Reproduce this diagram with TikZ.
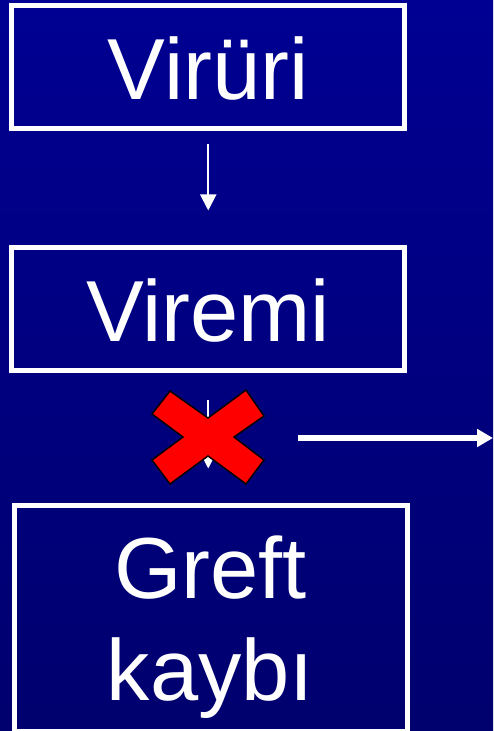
\documentclass[tikz,border=0pt]{standalone}
\usepackage{fontspec}
\setmainfont{Liberation Sans}
\usetikzlibrary{arrows.meta}

\definecolor{bgtop}{RGB}{0,0,146}
\definecolor{bgbot}{RGB}{0,0,110}
\definecolor{crossred}{RGB}{255,0,0}

\begin{document}
\begin{tikzpicture}[x=0.75pt,y=-0.75pt,
  stagebox/.style={draw=white, line width=3.75pt, inner sep=0pt,
    text=white, font=\fontsize{65}{76.5}\selectfont,
    minimum width=294.4pt, minimum height=91.9pt,
    text height=48pt, text depth=0pt},
  thinarrow/.style={draw=white, line width=1.5pt,
    -{Triangle[width=12pt,length=12pt]}},
  thickarrow/.style={draw=white, line width=3.9pt,
    -{Triangle[width=13pt,length=12pt]}},
  crossmark/.style={fill=crossred, draw=black, line width=1.1pt, line join=miter}]

  % background
  \useasboundingbox (0,0) rectangle (493,731);
  \shade[top color=bgtop, bottom color=bgbot] (0,0) rectangle (493,731);

  % stages
  \node[stagebox] (viruri) at (208.25,67.25) {Virüri};
  \node[stagebox] (viremi) at (208.25,309.25) {Viremi};
  \node[stagebox, align=center, minimum width=294.75pt, minimum height=169.5pt,
        text height=130pt, text depth=7pt] (greft) at (210.5,618) {Greft\\kaybı};

  % progression arrows
  \draw[thinarrow, shorten <=10.1pt, shorten >=26.25pt] (viruri.south) -- (viremi.north);
  \draw[thinarrow, shorten <=20.6pt, shorten >=25.5pt]
    (viremi.south) -- (viremi.south |- greft.north);

  % blocked step: red cross over the arrow
  \coordinate (cross) at (208,437);
  \begin{scope}[shift={(cross)}]
    \draw[crossmark]
      (-56,-23) -- (-38,-46) -- (0,-19) -- (38,-47) -- (56,-21) -- (26,0)
      -- (56,23) -- (38,47) -- (0,19) -- (-38,47) -- (-56,23) -- (-25,0)
      -- cycle;
  \end{scope}

  % side arrow
  \coordinate (sidefrom) at (298,438);
  \coordinate (sideto) at (493,438);
  \draw[thickarrow] (sidefrom) -- (sideto);
\end{tikzpicture}
\end{document}
